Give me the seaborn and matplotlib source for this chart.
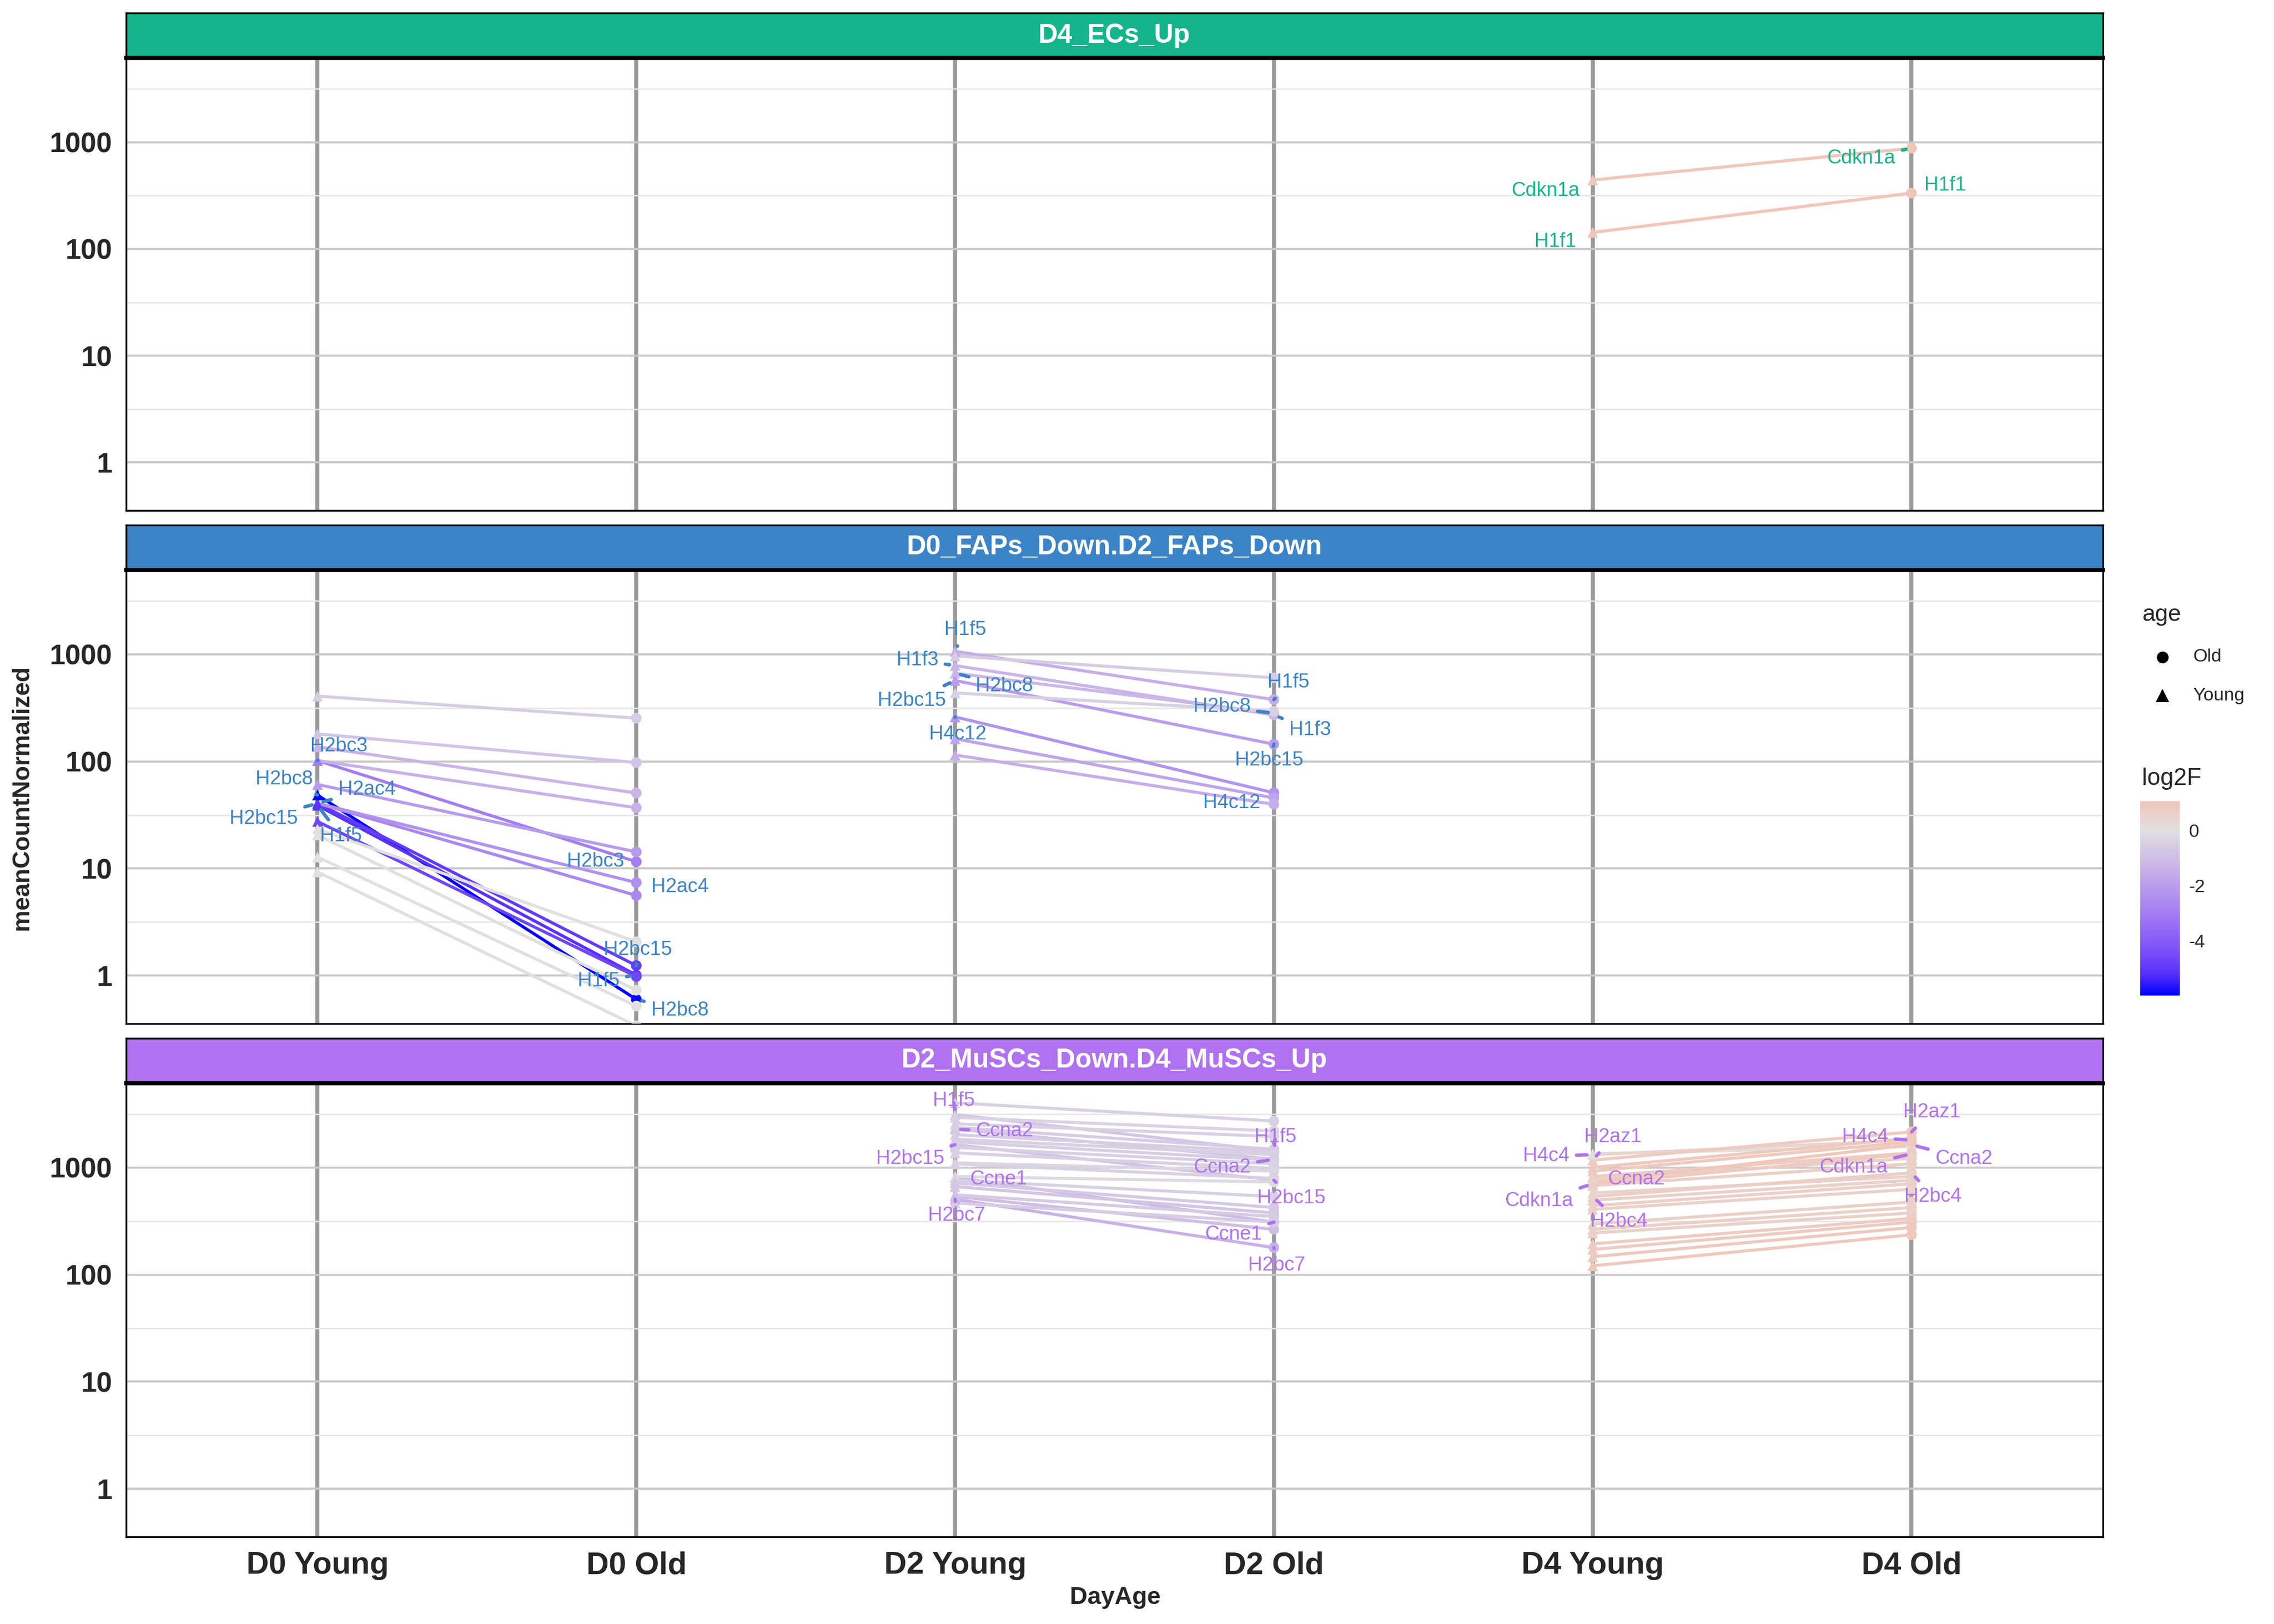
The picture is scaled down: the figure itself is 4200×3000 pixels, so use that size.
import numpy as np
import pandas as pd
import seaborn as sns
import matplotlib.pyplot as plt
from matplotlib.colors import LinearSegmentedColormap, Normalize
from matplotlib.cm import ScalarMappable
from matplotlib.lines import Line2D

# x categories, in plotting order
day_age = ["D0 Young", "D0 Old", "D2 Young", "D2 Old", "D4 Young", "D4 Old"]

facets = ["D4_ECs_Up", "D0_FAPs_Down.D2_FAPs_Down", "D2_MuSCs_Down.D4_MuSCs_Up"]
facet_cols = ["#14B58A", "#3B84C7", "#B072F0"]

# ---- D4_ECs_Up (day 4)
ec_d4_genes = ["Cdkn1a", "H1f1"]
ec_d4_young = [443, 143]
ec_d4_old = [880, 334]
ec_d4_lfc = [0.99, 1.05]

# ---- D0_FAPs_Down.D2_FAPs_Down (day 0)
fap_d0_genes = ["f0_01", "f0_02", "f0_03", "f0_04", "H2bc3", "f0_06", "H2ac4", "f0_08",
                "H2bc15", "H1f5", "H2bc8", "f0_12", "f0_13", "f0_14", "f0_15", "f0_16"]
fap_d0_young = [408, 181, 137, 102, 102, 61, 40.7, 40.7, 40.7, 38.9, 48.6, 27.5, 23.4, 20.6, 12.8, 9.3]
fap_d0_old = [254, 97.7, 50.8, 37.0, 11.6, 14.3, 7.4, 5.6, 1.24, 1.01, 0.60, 0.98, 2.07, 0.73, 0.52, 0.34]
fap_d0_lfc = [-0.6, -0.85, -1.3, -1.4, -3.0, -2.1, -2.4, -2.7, -4.9, -5.1, -5.97, -4.6, 0, 0, 0, 0]

# ---- D0_FAPs_Down.D2_FAPs_Down (day 2)
fap_d2_genes = ["H1f5", "f2_02", "H1f3", "H2bc8", "H2bc15", "f2_06", "H4c12", "f2_08", "f2_09"]
fap_d2_young = [1069, 969, 787, 668, 571, 437, 261, 163, 115]
fap_d2_old = [378, 605, 272, 282, 145, 294, 51, 45.7, 39.8]
fap_d2_lfc = [-1.5, -0.6, -1.3, -1.2, -2.0, -0.5, -2.3, -1.8, -1.5]

# ---- D2_MuSCs_Down.D4_MuSCs_Up (day 2)
mu_d2_genes = ["H1f5", "Ccna2", "H2bc15", "Ccne1", "H2bc7", "m2_06", "m2_07", "m2_08", "m2_09",
               "m2_10", "m2_11", "m2_12", "m2_13", "m2_14", "m2_15", "m2_16", "m2_17", "m2_18",
               "m2_19", "m2_20", "m2_21", "m2_22", "m2_23"]
mu_d2_young = [3126, 2285, 1637, 809, 506, 4030, 2946, 2570, 2377, 2032, 1842, 1738, 1545,
               1373, 1107, 1086, 826, 763, 720, 666, 558, 537, 468]
mu_d2_old = [1430, 1197, 764, 310, 179, 2725, 2198, 1954, 1485, 1400, 1320, 1174, 1086,
             984, 928, 794, 734, 537, 424, 377, 349, 265, 310]
mu_d2_lfc = [-0.8, -0.8, -0.9, -1.1, -1.4, -0.45, -0.4, -0.45, -0.6, -0.55, -0.5, -0.55, -0.5,
             -0.5, -0.3, -0.45, -0.2, -0.5, -0.7, -0.8, -0.65, -1.0, -0.6]

# ---- D2_MuSCs_Down.D4_MuSCs_Up (day 4)
mu_d4_genes = ["H2az1", "H4c4", "Ccna2", "Cdkn1a", "H2bc4", "m4_06", "m4_07", "m4_08", "m4_09",
               "m4_10", "m4_11", "m4_12", "m4_13", "m4_14", "m4_15", "m4_16", "m4_17", "m4_18",
               "m4_19", "m4_20", "m4_21", "m4_22"]
mu_d4_young = [1174, 1320, 734, 706, 537, 1347, 1004, 928, 826, 794, 679, 580, 496, 441, 408,
               298, 265, 245, 194, 172, 147, 121]
mu_d4_old = [2155, 1806, 1637, 1346, 893, 1575, 1878, 1738, 1373, 1221, 1086, 826, 763, 706, 627,
             477, 424, 377, 335, 310, 276, 236]
mu_d4_lfc = [0.85, 0.45, 1.0, 0.9, 0.7, 0.05, 0.9, 0.9, 0.75, 0.6, 0.65, 0.5, 0.6, 0.65, 0.6,
             0.65, 0.65, 0.6, 0.8, 0.85, 0.9, 0.95]

blocks = [
    (0, "D4", ec_d4_genes, ec_d4_young, ec_d4_old, ec_d4_lfc),
    (1, "D0", fap_d0_genes, fap_d0_young, fap_d0_old, fap_d0_lfc),
    (1, "D2", fap_d2_genes, fap_d2_young, fap_d2_old, fap_d2_lfc),
    (2, "D2", mu_d2_genes, mu_d2_young, mu_d2_old, mu_d2_lfc),
    (2, "D4", mu_d4_genes, mu_d4_young, mu_d4_old, mu_d4_lfc),
]

rows = []
for fi, day, genes, yv, ov, lfc in blocks:
    for g, y, o, l in zip(genes, yv, ov, lfc):
        uid = f"{fi}|{day}|{g}"
        rows.append(dict(facet=facets[fi], DayAge=f"{day} Young", age="Young", gene=g,
                         uid=uid, meanCountNormalized=y, log2F=l))
        rows.append(dict(facet=facets[fi], DayAge=f"{day} Old", age="Old", gene=g,
                         uid=uid, meanCountNormalized=o, log2F=l))
df = pd.DataFrame(rows)
df["x"] = df["DayAge"].map({k: i for i, k in enumerate(day_age)})

# label offsets in points (dx, dy, draw segment)
label_offsets = {
    (0, "D4 Young", "Cdkn1a"): (-21, -4.8, False),
    (0, "D4 Young", "H1f1"): (-16.6, -4.1, False),
    (0, "D4 Old", "Cdkn1a"): (-22.3, -4.6, True),
    (0, "D4 Old", "H1f1"): (14.9, 3.4, False),
    (1, "D0 Young", "H2bc3"): (9.6, 6.4, True),
    (1, "D0 Young", "H2bc8"): (-14.8, 7.1, True),
    (1, "D0 Young", "H2ac4"): (21.9, 6.0, True),
    (1, "D0 Young", "H2bc15"): (-23.8, -6.8, True),
    (1, "D0 Young", "H1f5"): (10.3, -13.5, True),
    (1, "D0 Old", "H2bc3"): (-18, 0, False),
    (1, "D0 Old", "H2ac4"): (19.3, -1.9, False),
    (1, "D0 Old", "H2bc15"): (0.6, 7.1, True),
    (1, "D0 Old", "H1f5"): (-16.7, -2.6, True),
    (1, "D0 Old", "H2bc8"): (19.3, -4.8, True),
    (1, "D2 Young", "H1f5"): (4.5, 9.6, True),
    (1, "D2 Young", "H1f3"): (-16.7, 2.4, True),
    (1, "D2 Young", "H2bc8"): (21.9, -5.8, True),
    (1, "D2 Young", "H2bc15"): (-19.3, -9, True),
    (1, "D2 Young", "H4c12"): (1.3, -7.7, True),
    (1, "D2 Old", "H1f5"): (6.4, 7.7, True),
    (1, "D2 Old", "H2bc8"): (-23, 2.9, True),
    (1, "D2 Old", "H1f3"): (16, -6.6, True),
    (1, "D2 Old", "H2bc15"): (-2, -7.2, True),
    (1, "D2 Old", "H4c12"): (-18.6, -4.5, False),
    (2, "D2 Young", "H1f5"): (-0.6, 6.2, True),
    (2, "D2 Young", "Ccna2"): (21.9, -0.9, True),
    (2, "D2 Young", "H2bc15"): (-20, -6.2, True),
    (2, "D2 Young", "Ccne1"): (19.3, -0.8, False),
    (2, "D2 Young", "H2bc7"): (0.6, -7.2, True),
    (2, "D2 Old", "H1f5"): (0.6, 6.2, True),
    (2, "D2 Old", "Ccna2"): (-23, -3.7, True),
    (2, "D2 Old", "H2bc15"): (7.7, -8, True),
    (2, "D2 Old", "Ccne1"): (-18, -5.5, True),
    (2, "D2 Old", "H2bc7"): (1.3, -7.8, True),
    (2, "D4 Young", "H2az1"): (9, 10.3, True),
    (2, "D4 Young", "H4c4"): (-20.6, -0.6, True),
    (2, "D4 Young", "Ccna2"): (19.3, 1.2, False),
    (2, "D4 Young", "Cdkn1a"): (-23.8, -7.7, True),
    (2, "D4 Young", "H2bc4"): (11.6, -11, True),
    (2, "D4 Old", "H2az1"): (9, 8.7, True),
    (2, "D4 Old", "H4c4"): (-20.6, 1.3, True),
    (2, "D4 Old", "Ccna2"): (23.1, -6.2, True),
    (2, "D4 Old", "Cdkn1a"): (-25.7, -6.1, True),
    (2, "D4 Old", "H2bc4"): (9.6, -10.5, True),
}

sns.set_style("white")
plt.rcParams["font.family"] = ["Liberation Sans", "DejaVu Sans"]

# blue -> grey -> salmon, sampled like ggplot's gradient2 (Lab)
cmap = LinearSegmentedColormap.from_list("lfc", [
    (0.0, "#0000FF"), (0.1063, "#542EFC"), (0.2126, "#764BF9"), (0.3189, "#8F64F7"),
    (0.4252, "#A37EF3"), (0.6379, "#C5AEE9"), (0.7442, "#D4C7E5"), (0.8504, "#E0E0E0"),
    (1.0, "#F1C6B9")])
norm = Normalize(-5.97, 1.05)

fig = plt.figure(figsize=(14, 10), dpi=300)
L, W = 0.0555, 0.8692
panel_box = [(0.6857, 0.2786), (0.3696, 0.2795), (0.0536, 0.2795)]
strip_h = 0.0277

for i, name in enumerate(facets):
    b, h = panel_box[i]
    ax = fig.add_axes([L, b, W, h])
    ax.set_yscale("log")
    sub = df[df.facet == name]
    sns.lineplot(data=sub, x="x", y="meanCountNormalized", hue="log2F", units="uid",
                 estimator=None, palette=cmap, hue_norm=norm, lw=1.35, legend=False,
                 sort=False, ax=ax)
    sns.scatterplot(data=sub, x="x", y="meanCountNormalized", hue="log2F", style="age",
                    markers={"Old": "o", "Young": "^"}, palette=cmap, hue_norm=norm,
                    s=22, linewidth=0, legend=False, ax=ax, zorder=3)

    ax.set_xlim(-0.6, 5.6)
    ax.set_ylim(10 ** -0.45, 10 ** 3.79)
    ax.set_yticks([1, 10, 100, 1000])
    ax.set_yticklabels(["1", "10", "100", "1000"], fontsize=12.5, fontweight="bold")
    ax.set_yticks([10 ** 0.5, 10 ** 1.5, 10 ** 2.5, 10 ** 3.5], minor=True)
    ax.set_xticks(range(len(day_age)))
    if i == 2:
        ax.set_xticklabels(day_age, fontsize=13.8, fontweight="bold")
        ax.tick_params(axis="x", length=3.2, width=0.8, color="#333333", pad=3)
    else:
        ax.set_xticklabels([])
        ax.tick_params(axis="x", length=0)
    ax.tick_params(axis="y", which="major", length=3.2, width=0.8, color="#333333", pad=3)
    ax.tick_params(axis="y", which="minor", length=0)
    ax.set_xlabel("")
    ax.set_ylabel("")
    ax.grid(axis="y", which="major", color="#C9C9C9", lw=0.9)
    ax.grid(axis="y", which="minor", color="#E6E6E6", lw=0.6)
    ax.grid(axis="x", which="major", color="#9A9A9A", lw=1.8)
    ax.set_axisbelow(True)
    for sp in ax.spines.values():
        sp.set_color("black")
        sp.set_linewidth(0.8)

    # gene labels
    col = facet_cols[i]
    for (fi, da, g), (dx, dy, seg) in label_offsets.items():
        if fi != i:
            continue
        pt = sub[(sub.DayAge == da) & (sub.gene == g)].iloc[0]
        kw = {}
        if seg:
            kw = dict(arrowprops=dict(arrowstyle="-", color=col, lw=1.5, shrinkA=1,
                                      shrinkB=2.5, capstyle="round"))
        ax.annotate(g, (pt.x, pt.meanCountNormalized), xytext=(dx, dy),
                    textcoords="offset points", ha="center", va="center",
                    fontsize=8.8, color=col, zorder=5, **kw)

    # facet strip
    sax = fig.add_axes([L, b + h, W, strip_h])
    sax.set_facecolor(col)
    sax.set_xticks([])
    sax.set_yticks([])
    for sp in sax.spines.values():
        sp.set_color("black")
        sp.set_linewidth(0.8)
    sax.spines["bottom"].set_linewidth(1.8)
    sax.text(0.5, 0.5, name, color="white", fontsize=11.9, fontweight="bold",
             ha="center", va="center", transform=sax.transAxes)

fig.text(0.0096, 0.509, "meanCountNormalized", rotation=90, ha="center", va="center",
         fontsize=10.8, fontweight="bold")
fig.text(0.4904, 0.0161, "DayAge", ha="center", va="center", fontsize=10.8, fontweight="bold")

# age legend
fig.text(0.942, 0.6214, "age", ha="left", va="center", fontsize=10.4)
for yy, mk, lab in [(0.5955, "o", "Old"), (0.5714, "^", "Young")]:
    fig.add_artist(Line2D([0.9509], [yy], marker=mk, color="black", markersize=4.2,
                          linestyle="none", transform=fig.transFigure))
    fig.text(0.9643, yy, lab, ha="left", va="center", fontsize=8.2)

# log2F colour bar
fig.text(0.942, 0.5205, "log2F", ha="left", va="center", fontsize=10.5)
cax = fig.add_axes([0.9413, 0.387, 0.0172, 0.1196])
cb = fig.colorbar(ScalarMappable(norm=norm, cmap=cmap), cax=cax)
cb.outline.set_visible(False)
cb.set_ticks([0, -2, -4])
cb.set_ticklabels(["0", "-2", "-4"])
cax.tick_params(direction="in", color="white", length=3, width=0.8, left=True, right=True,
                labelsize=8.2, pad=4)

fig.savefig("out.png", dpi=300)
